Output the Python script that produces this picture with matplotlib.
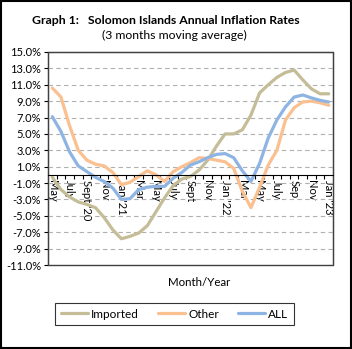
#!/usr/bin/env python3
"""
Solomon Islands annual inflation rates (3 months moving average)
"""
import matplotlib
matplotlib.use('Agg')
import matplotlib.pyplot as plt
from matplotlib.patches import Rectangle

plt.rcParams['font.family'] = ['Lato', 'DejaVu Sans']

# May 2020 .. Jan 2023, one value per month
months = ['May', 'Jun', 'July', 'Aug', "Sept '20", 'Oct', 'Nov', 'Dec',
          "Jan '21", 'Feb', 'Mar', 'Apr', 'May', 'Jun', 'July', 'Aug',
          'Sept', 'Oct', 'Nov', 'Dec', "Jan '22", 'Feb', 'Mar', 'Apr',
          'May', 'Jun', 'July', 'Aug', 'Sep', 'Oct', 'Nov', 'Dec', "Jan '23"]

imported = [-0.3, -1.8, -2.7, -3.3, -3.6, -4.0, -5.2, -6.7, -7.8, -7.5, -7.1,
            -6.2, -4.5, -2.8, -1.3, -0.5, -0.2, 0.6, 1.8, 3.5, 5.0, 5.0, 5.5,
            7.3, 10.0, 11.0, 11.9, 12.5, 12.8, 11.6, 10.5, 9.9, 9.9]
other = [10.6, 9.5, 6.0, 3.0, 1.8, 1.3, 1.1, 0.3, -1.2, -0.9, -0.2, 0.5, 0.0,
         -0.8, 0.4, 1.0, 1.5, 2.1, 2.0, 1.8, 1.6, 0.8, -2.0, -4.0, -1.5, 1.2,
         3.0, 6.7, 8.2, 8.9, 9.0, 8.8, 8.5]
all_items = [7.1, 5.3, 2.8, 1.1, 0.4, -0.3, -0.8, -1.6, -3.0, -2.9, -1.8, -1.5,
             -1.4, -1.4, -0.4, 0.3, 1.2, 1.6, 2.1, 2.5, 2.6, 2.1, 0.5, -0.8,
             1.4, 4.5, 6.7, 8.3, 9.5, 9.75, 9.4, 9.1, 8.9]

y_ticks = list(range(-11, 16, 2))

fig = plt.figure(figsize=(3.52, 3.49), dpi=100)
ax = fig.add_axes([48 / 352, 1 - 265 / 349, 285 / 352, 213 / 349])

x = list(range(len(months)))
ax.plot(x, imported, color='#C4BD97', lw=2.3, label='Imported', solid_capstyle='round')
ax.plot(x, other, color='#FAC090', lw=2.3, label='Other', solid_capstyle='round')
ax.plot(x, all_items, color='#8EB4E3', lw=2.3, label='ALL', solid_capstyle='round')

ax.set_xlim(-0.5, len(months) - 0.5)
ax.set_ylim(-11, 15)
ax.set_yticks(y_ticks)
ax.set_yticklabels([f'{v:.1f}%' for v in y_ticks], fontsize=8)
ax.yaxis.grid(True, linestyle=(0, (4, 3)), color='#B0B0B0', lw=0.8)
ax.tick_params(axis='y', length=3, width=0.8, pad=2)

# category axis crosses at zero
ax.spines['bottom'].set_position(('data', 0))
for s in ['left', 'right', 'top']:
    ax.spines[s].set_color('#404040')
ax.spines['bottom'].set_color('black')
ax.add_patch(Rectangle((0, 0), 1, 1, transform=ax.transAxes, fill=False,
                       edgecolor='#404040', lw=1.0, clip_on=False))
ax.set_xticks(x[::2])
ax.set_xticklabels(months[::2], rotation=270, fontsize=8)
ax.set_xticks([i - 0.5 for i in x[1:]], minor=True)
ax.tick_params(axis='x', which='major', length=0, pad=4)
ax.tick_params(axis='x', which='minor', length=3, width=0.8, direction='out')

fig.text(199 / 352, 1 - 283 / 349, 'Month/Year', ha='center', va='center', fontsize=8.3)
fig.text(0.47, 1 - 20 / 349, 'Graph 1:   Solomon Islands Annual Inflation Rates',
         ha='center', va='center', fontsize=8.8, fontweight='bold')
fig.text(0.495, 1 - 35 / 349, '(3 months moving average)', ha='center', va='center',
         fontsize=8.8)

leg = fig.legend(loc='center', bbox_to_anchor=(174.5 / 352, 1 - 314 / 349), ncol=3,
                 fontsize=8.5, frameon=True, fancybox=False, edgecolor='black',
                 handlelength=2.3, columnspacing=1.6, handletextpad=0.25,
                 borderpad=0.5, borderaxespad=0)
leg.get_frame().set_linewidth(0.8)

fig.add_artist(Rectangle((0.003, 0.003), 0.994, 0.994, transform=fig.transFigure,
                         fill=False, edgecolor='black', lw=1.5))

fig.savefig('out.png', dpi=100)
